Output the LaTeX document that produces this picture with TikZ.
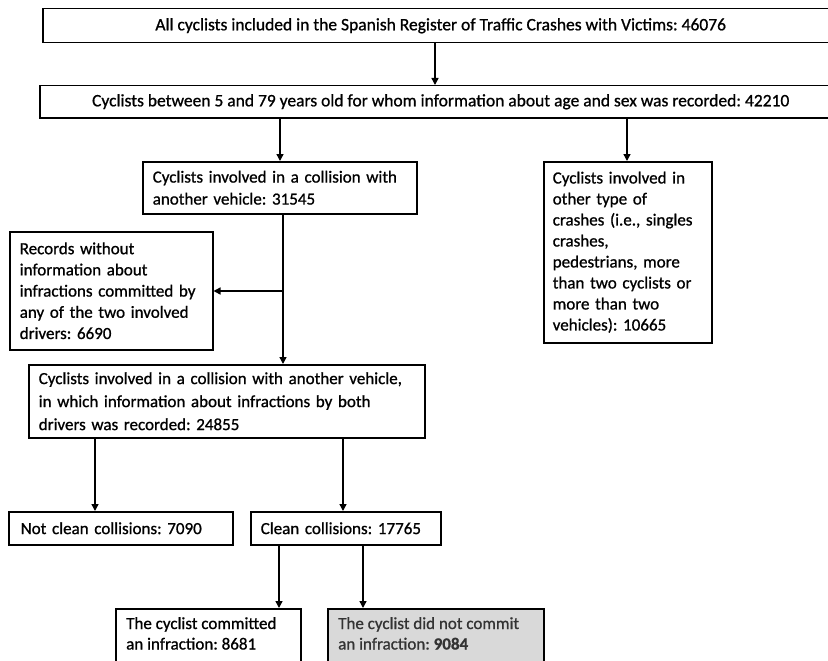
\documentclass[tikz,border=0pt]{standalone}
\usepackage{fontspec}
\setmainfont{Carlito}[FakeBold=0.9]
\usetikzlibrary{arrows.meta}
\begin{document}
\begin{tikzpicture}[x=1pt,y=-1pt,
  every node/.style={font=\fontsize{17}{21.5}\selectfont\frenchspacing},
  box/.style={draw=black,line width=1.5pt,anchor=north west,inner sep=0pt,
    align=left,fill=white},
  txt/.style={anchor=north west,inner sep=0pt,align=left},
  arr/.style={line width=1.4pt,-{Triangle[width=7pt,length=7pt]}}]
\useasboundingbox (0,0) rectangle (828,661);
\clip (0,0) rectangle (828,661);
\fill[white] (0,0) rectangle (828,661);

% top two boxes, wider than the page on the right
\node[box,minimum width=796pt,minimum height=34pt,align=center,
  font=\fontsize{17.5}{21}\selectfont\frenchspacing] (b1) at (42,8)
  {All cyclists included in the Spanish Register of Traffic Crashes with Victims: 46076};
\node[box,minimum width=802pt,minimum height=32pt,align=center,
  font=\fontsize{17.5}{21}\selectfont\frenchspacing] (b2) at (39,85)
  {Cyclists between 5 and 79 years old for whom information about age and sex was recorded: 42210};

% second level
\node[box,minimum width=274pt,minimum height=52pt,text width=254pt,inner xsep=10pt,
  font=\fontsize{17}{22}\selectfont\frenchspacing] (b3) at (142,161)
  {Cyclists involved in a collision with\\another vehicle: 31545};
\node[box,minimum width=168pt,minimum height=181pt,text width=150pt,inner xsep=9pt,
  font=\fontsize{17}{21}\selectfont\frenchspacing] (b4) at (543,161)
  {Cyclists involved in\\other type of\\crashes (i.e., singles\\crashes,\\pedestrians, more\\than two cyclists or\\more than two\\vehicles): 10665};
\node[box,minimum width=203pt,minimum height=118pt,text width=183pt,inner xsep=10pt,
  font=\fontsize{17}{21.2}\selectfont\frenchspacing] (rec) at (9,231)
  {Records without\\information about\\infractions committed by\\any of the two involved\\drivers: 6690};
\node[box,minimum width=396pt,minimum height=73pt,text width=376pt,inner xsep=10pt,
  font=\fontsize{17}{23}\selectfont\frenchspacing] (b5) at (28,364)
  {Cyclists involved in a collision with another vehicle,\\in which information about infractions by both\\drivers was recorded: 24855};

% clean / not clean
\node[box,minimum width=213pt,minimum height=33pt,text width=200pt,inner xsep=12pt] (b6) at (8,511)
  {Not clean collisions: 7090};
\node[box,minimum width=187pt,minimum height=33pt,text width=170pt,inner xsep=10pt] (b7) at (250,511)
  {Clean collisions: 17765};

% bottom boxes, running off the lower edge
\node[box,minimum width=185pt,minimum height=80pt] (b8) at (115,608) {};
\node[txt,font=\fontsize{17}{20.5}\selectfont\frenchspacing]
  at ([shift={(11,9)}]b8.north west) {The cyclist committed\\an infraction: 8681};
\node[box,fill=black!15,minimum width=216pt,minimum height=80pt] (b9) at (327,608) {};
\node[txt,font=\fontsize{17}{20.5}\selectfont\frenchspacing,text=black!80]
  at ([shift={(11,9)}]b9.north west) {The cyclist did not commit\\an infraction: \textbf{9084}};

% connectors
\draw[arr] (b1.south -| 435,0) -- (b2.north -| 435,0);
\draw[arr] (b2.south -| 280,0) -- (b3.north -| 280,0);
\draw[arr] (b2.south -| 627,0) -- (b4.north -| 627,0);
\draw[arr] (b3.south -| 283,0) -- (b5.north -| 283,0);
\coordinate (split) at (283,291);
\draw[arr] (split) -- (rec.east |- split);
\draw[arr] (b5.south -| 95,0) -- (b6.north -| 95,0);
\draw[arr] (b5.south -| 343,0) -- (b7.north -| 343,0);
\draw[arr] (b7.south -| 279,0) -- (b8.north -| 279,0);
\draw[arr] (b7.south -| 363,0) -- (b9.north -| 363,0);
\end{tikzpicture}
\end{document}
